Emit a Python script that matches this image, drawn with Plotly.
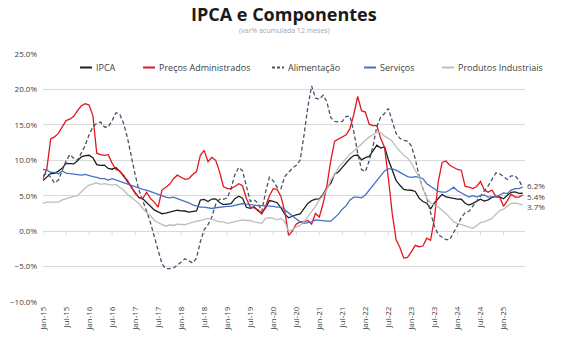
import plotly.graph_objects as go
from decimal import Decimal, ROUND_HALF_UP

# ---------------- data ----------------
MESES_ABREV = ["Jan", "Fev", "Mar", "Abr", "Mai", "Jun", "Jul", "Ago", "Set", "Out", "Nov", "Dez"]
meses = [f"{m}-{a}" for a in range(15, 26) for m in MESES_ABREV][:126]
tick_labels = meses[::6]

ipca = [7.14, 7.70, 8.13, 8.17, 8.47, 8.89, 9.56, 9.53, 9.49, 9.93, 10.48, 10.67,
        10.71, 10.36, 9.39, 9.28, 9.32, 8.84, 8.74, 8.97, 8.48, 7.87, 6.99, 6.29,
        5.35, 4.76, 4.57, 4.08, 3.60, 3.00, 2.71, 2.46, 2.54, 2.70, 2.80, 2.95,
        2.86, 2.84, 2.68, 2.76, 2.86, 4.39, 4.48, 4.19, 4.53, 4.56, 4.05, 3.75,
        3.78, 3.89, 4.58, 4.94, 4.66, 3.37, 3.22, 3.43, 2.89, 2.54, 3.27, 4.31,
        4.19, 4.01, 3.30, 2.40, 1.88, 2.13, 2.31, 2.44, 3.14, 3.92, 4.31, 4.52,
        4.56, 5.20, 6.10, 6.76, 8.06, 8.35, 8.99, 9.68, 10.25, 10.67, 10.74, 10.06,
        10.38, 10.54, 11.30, 12.13, 11.73, 11.89, 10.07, 8.73, 7.17, 6.47, 5.90, 5.79,
        5.77, 5.60, 4.65, 4.18, 3.94, 3.16, 3.99, 4.61, 5.19, 4.82, 4.68, 4.62,
        4.51, 4.50, 3.93, 3.69, 3.93, 4.23, 4.50, 4.24, 4.42, 4.76, 4.87, 4.83,
        4.56, 5.06, 5.48, 5.53, 5.32, 5.35]

administrados = [7.4, 8.8, 13.0, 13.3, 13.8, 14.7, 15.6, 15.8, 16.2, 17.0, 17.7, 18.0,
                 17.8, 16.3, 11.0, 10.8, 10.7, 10.8, 9.6, 8.7, 8.5, 7.7, 7.2, 6.2,
                 5.5, 4.7, 4.6, 5.5, 4.6, 4.1, 3.4, 5.8, 6.2, 6.6, 7.4, 7.9,
                 7.6, 7.3, 7.4, 8.0, 8.4, 10.7, 11.4, 9.8, 10.4, 10.0, 8.4, 6.3,
                 6.0, 6.0, 6.3, 6.7, 6.4, 4.6, 3.4, 3.3, 3.0, 2.4, 3.5, 5.0,
                 6.0, 5.9, 4.9, 2.8, -0.6, 0.0, 1.0, 1.3, 1.3, 1.5, 1.0, 2.5,
                 2.0, 3.9, 6.5, 10.0, 12.7, 13.0, 13.3, 13.6, 14.5, 16.5, 19.0, 17.0,
                 16.8, 15.1, 14.9, 14.9, 13.1, 11.8, 7.5, 2.5, -1.2, -2.3, -3.8, -3.7,
                 -2.9, -2.0, -2.2, -2.1, -1.0, -1.3, 1.8, 7.0, 9.7, 9.9, 9.3, 9.0,
                 8.7, 8.6, 6.3, 6.2, 6.0, 6.3, 7.0, 5.8, 5.5, 5.8, 4.9, 4.8,
                 3.5, 4.3, 5.2, 4.8, 4.8, 5.1]

alimentacao = [7.8, 8.2, 7.6, 6.8, 7.2, 8.6, 9.9, 10.8, 10.3, 10.0, 11.0, 12.1,
               13.6, 14.7, 15.2, 15.4, 14.7, 14.7, 15.6, 16.7, 16.5, 15.2, 13.2, 10.4,
               8.0, 5.8, 4.4, 2.8, 1.2, -0.6, -2.7, -4.6, -5.3, -5.3, -5.2, -4.8,
               -4.3, -3.9, -4.2, -4.5, -3.8, -1.5, 0.2, 0.9, 2.0, 3.8, 4.5, 4.5,
               4.7, 6.0, 8.0, 9.0, 8.5, 6.3, 4.2, 4.4, 4.0, 2.8, 5.5, 7.6,
               7.1, 6.2, 6.0, 7.7, 8.3, 8.9, 9.3, 10.0, 13.5, 17.5, 20.5, 18.8,
               18.6, 19.2, 18.2, 16.0, 15.5, 15.4, 15.5, 16.2, 16.2, 14.0, 11.0, 8.7,
               8.4, 9.9, 12.0, 14.8, 16.1, 16.6, 17.3, 15.5, 13.8, 13.1, 12.8, 12.7,
               12.0, 10.2, 7.8, 6.0, 4.8, 2.6, 0.7, -0.5, -0.9, -1.2, -1.2, -0.3,
               0.8, 1.9, 2.6, 2.8, 3.5, 4.3, 4.9, 5.6, 6.4, 7.3, 8.2, 8.1,
               7.7, 7.3, 7.8, 7.8, 7.2, 6.2]

servicos = [8.7, 8.6, 8.3, 8.3, 8.1, 8.5, 8.2, 8.1, 8.0, 8.0, 7.9, 8.0,
            7.8, 7.7, 7.6, 7.4, 7.4, 7.2, 7.4, 7.2, 7.0, 6.8, 6.7, 6.5,
            6.3, 6.1, 5.9, 5.8, 5.6, 5.4, 5.1, 5.0, 4.8, 4.7, 4.8, 4.6,
            4.4, 4.3, 4.0, 3.7, 3.5, 3.4, 3.4, 3.3, 3.2, 3.3, 3.4, 3.4,
            3.5, 3.5, 3.6, 3.8, 3.9, 3.8, 3.7, 3.7, 3.6, 3.6, 3.6, 3.5,
            3.5, 3.4, 3.4, 3.0, 2.6, 2.2, 1.7, 1.3, 1.1, 1.2, 1.3, 1.6,
            1.5, 1.4, 1.4, 1.4, 1.9, 2.4, 3.1, 3.6, 4.4, 4.8, 4.8, 4.7,
            5.1, 5.8, 6.5, 7.1, 7.9, 8.5, 8.8, 8.8, 8.6, 8.3, 8.1, 7.7,
            7.6, 7.7, 7.6, 7.4, 6.7, 6.3, 5.9, 5.6, 5.5, 5.5, 5.8, 6.2,
            5.7, 5.4, 5.2, 4.8, 5.0, 4.8, 5.0, 5.1, 4.8, 4.8, 4.9, 5.1,
            5.4, 5.3, 5.8, 6.0, 6.0, 6.2]

industriais = [3.9, 4.1, 4.1, 4.1, 4.1, 4.4, 4.6, 4.7, 4.9, 5.0, 5.6, 6.1,
               6.5, 6.7, 6.8, 6.6, 6.7, 6.6, 6.5, 6.6, 6.2, 5.8, 5.2, 4.8,
               4.4, 3.9, 3.2, 2.6, 2.2, 1.5, 1.2, 0.9, 0.7, 0.9, 0.8, 1.0,
               0.9, 0.9, 1.1, 1.3, 1.4, 1.5, 1.6, 1.8, 1.7, 1.5, 1.3, 1.3,
               1.1, 1.2, 1.3, 1.5, 1.6, 1.5, 1.5, 1.3, 1.2, 1.1, 1.8, 1.9,
               1.8, 1.6, 1.8, 1.3, 0.0, 0.2, 0.6, 0.8, 1.3, 2.0, 2.8, 3.5,
               4.4, 5.0, 5.9, 7.2, 8.0, 9.0, 9.6, 10.2, 10.9, 11.3, 11.8, 12.2,
               12.7, 13.3, 13.6, 14.0, 13.9, 13.4, 13.1, 12.7, 11.9, 11.3, 10.7, 10.3,
               9.6, 8.6, 7.6, 6.0, 4.6, 4.0, 3.6, 3.4, 3.0, 2.5, 1.9, 1.3,
               1.1, 0.9, 0.7, 0.5, 0.4, 0.8, 1.2, 1.3, 1.5, 1.8, 2.4, 2.9,
               3.1, 3.5, 3.9, 4.0, 3.8, 3.7]

nomes = ["IPCA", "Preços Administrados", "Alimentação", "Serviços", "Produtos Industriais"]
valores = [ipca, administrados, alimentacao, servicos, industriais]
cores = ["#1f1f1f", "#e3171e", "#44546a", "#4472c4", "#bdbdbd"]
tracos = ["solid", "solid", "4px,2.5px", "solid", "solid"]

# ---------------- geometry helpers (layout only) ----------------
W, H = 582, 363
ML, MR, MT, MB = 43, 57, 54, 61
PW, PH = W - ML - MR, H - MT - MB


def px_x(px):
    return (px - ML) / PW


def px_y(py):
    return (H - MB - py) / PH


FONT = "Open Sans"
TXT = "#404040"

fig = go.Figure()
for nome, vals, cor, dash in zip(nomes, valores, cores, tracos):
    fig.add_trace(go.Scatter(x=meses, y=vals, mode="lines", name=nome,
                             line=dict(color=cor, width=1.3, dash=dash),
                             showlegend=False,
                             hovertemplate="%{x}: %{y:.1f}%<extra>" + nome + "</extra>"))

shapes = []
annotations = []

# custom legend (compact like the original)
leg_px = [80, 143, 272, 364, 442]
leg_y = px_y(67.5)
for nome, cor, dash, lx in zip(nomes, cores, tracos, leg_px):
    shapes.append(dict(type="line", xref="paper", yref="paper",
                       x0=px_x(lx), x1=px_x(lx + 12), y0=leg_y, y1=leg_y,
                       line=dict(color=cor, width=2, dash=("3px,2px" if dash != "solid" else "solid"))))
    annotations.append(dict(xref="paper", yref="paper", x=px_x(lx + 14), y=leg_y,
                            xanchor="left", yanchor="middle", showarrow=False,
                            text=nome, font=dict(family=FONT, size=9, color=TXT)))

# small tick marks on the 0% line
for t in tick_labels:
    shapes.append(dict(type="line", xref="x", yref="y", ysizemode="pixel", yanchor=0,
                       x0=t, x1=t, y0=0, y1=-4, line=dict(color="#d9d9d9", width=1)))


def fmt(v):
    return str(Decimal(str(v)).quantize(Decimal("0.1"), rounding=ROUND_HALF_UP)) + "%"


# end labels
fim = meses[-1]
for vals, dy in [(servicos, 2), (ipca, -3), (industriais, -2)]:
    annotations.append(dict(x=fim, y=vals[-1], xref="x", yref="y", xanchor="left",
                            yanchor="middle", xshift=3, yshift=dy, showarrow=False,
                            borderpad=0,
                            text=fmt(vals[-1]), font=dict(family=FONT, size=8, color=TXT)))

# title and subtitle
annotations.append(dict(xref="paper", yref="paper", x=px_x(284), y=px_y(1),
                        xanchor="center", yanchor="top", showarrow=False,
                        borderpad=0,
                        text="<b>IPCA e Componentes</b>",
                        font=dict(family=FONT, size=18, color="#1a1a1a")))
annotations.append(dict(xref="paper", yref="paper", x=px_x(284), y=px_y(25.5),
                        xanchor="center", yanchor="top", showarrow=False,
                        borderpad=0,
                        text="(var% acumulada 12 meses)",
                        font=dict(family=FONT, size=7, color="#a6a6a6")))

fig.update_layout(
    width=W, height=H,
    margin=dict(l=ML, r=MR, t=MT, b=MB, pad=0),
    paper_bgcolor="white", plot_bgcolor="white",
    font=dict(family=FONT, color=TXT),
    shapes=shapes, annotations=annotations,
    showlegend=False,
    xaxis=dict(type="category", range=[0, 125.6], showgrid=False, zeroline=False,
               showline=False, ticks="", tickmode="array", tickvals=tick_labels,
               ticktext=tick_labels, tickangle=-90, automargin=False,
               ticklabelstandoff=2,
               tickfont=dict(family=FONT, size=8, color=TXT)),
    yaxis=dict(range=[-10, 25], dtick=5, tick0=0, tickformat=".1f", ticksuffix="%",
               showgrid=True, gridcolor="#d9d9d9", gridwidth=1, zeroline=False,
               showline=False, ticks="", automargin=False, ticklabelstandoff=5,
               tickfont=dict(family=FONT, size=8, color=TXT)),
)

fig.write_html("out.html", config={"displayModeBar": False},
               post_script="document.body.style.margin='0px';")
